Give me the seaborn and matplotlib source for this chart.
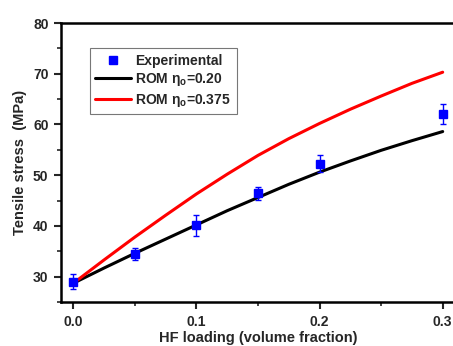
import numpy as np
import pandas as pd
import matplotlib
matplotlib.use("Agg")
import matplotlib.pyplot as plt
from matplotlib.ticker import MultipleLocator
import seaborn as sns

# experimental points
exp_x   = [0.0, 0.05, 0.10, 0.15, 0.20, 0.30]
exp_y   = [29.0, 34.4, 40.1, 46.4, 52.3, 62.0]
exp_err = [1.5, 1.2, 2.0, 1.3, 1.7, 2.0]

# ROM curves
rom_x     = [0.0, 0.025, 0.05, 0.075, 0.10, 0.125, 0.15, 0.175, 0.20, 0.225, 0.25, 0.275, 0.30]
rom_020   = [28.7, 31.7, 34.6, 37.4, 40.2, 43.0, 45.6, 48.2, 50.6, 52.8, 54.9, 56.8, 58.6]
rom_0375  = [28.7, 33.3, 37.8, 42.1, 46.3, 50.2, 53.9, 57.2, 60.2, 63.0, 65.6, 68.1, 70.3]

sns.set_style("white")
plt.rcParams['font.family'] = ['Liberation Sans', 'DejaVu Sans']
plt.rcParams['font.weight'] = 'bold'
plt.rcParams['mathtext.fontset'] = 'custom'
plt.rcParams['mathtext.rm'] = 'Liberation Sans:bold'
plt.rcParams['mathtext.it'] = 'Liberation Sans:bold'

fig = plt.figure(figsize=(4.53, 3.46), dpi=100)
ax = fig.add_axes([61/453, 1 - 302/346, 394/453, 279/346])

df = pd.DataFrame({"x": rom_x, "a": rom_020, "b": rom_0375})
eb = ax.errorbar(exp_x, exp_y, yerr=exp_err, fmt='s', color='#0000ff', ms=5.5,
                 capsize=2.5, elinewidth=1, capthick=1, zorder=4)
sns.lineplot(data=df, x="x", y="a", color='black', lw=2.2, ax=ax,
             label=r'ROM $\eta_o$=0.20')
sns.lineplot(data=df, x="x", y="b", color='#ff0000', lw=2.2, ax=ax,
             label=r'ROM $\eta_o$=0.375')

ax.set_xlim(-0.01, 0.31)
ax.set_ylim(25, 80)
ax.xaxis.set_major_locator(MultipleLocator(0.1))
ax.xaxis.set_minor_locator(MultipleLocator(0.05))
ax.set_yticks([30, 40, 50, 60, 70, 80])
ax.yaxis.set_minor_locator(MultipleLocator(5))
ax.tick_params(which='major', direction='out', length=5, width=1.5, labelsize=10,
               left=True, bottom=True, pad=4)
ax.tick_params(which='minor', direction='out', length=3, width=1.2,
               left=True, bottom=True)
for s in ['left', 'bottom', 'top']:
    ax.spines[s].set_linewidth(1.8)
    ax.spines[s].set_color('black')
ax.spines['right'].set_visible(False)

ax.set_xlabel('HF loading (volume fraction)', fontsize=10.5, fontweight='bold', labelpad=2)
ax.set_ylabel('Tensile stress  (MPa)', fontsize=10.5, fontweight='bold', labelpad=4)

handles, labels = ax.get_legend_handles_labels()
handles = [eb[0]] + handles
labels = ['Experimental'] + labels
leg = ax.legend(handles, labels, loc='upper left', bbox_to_anchor=(0.055, 0.935),
                fontsize=10, frameon=True, fancybox=False, edgecolor='#555555',
                numpoints=1, handlelength=2.6, handletextpad=0.3, borderpad=0.4,
                labelspacing=0.25)
leg.get_frame().set_linewidth(0.8)

fig.savefig("out.png", dpi=100)
